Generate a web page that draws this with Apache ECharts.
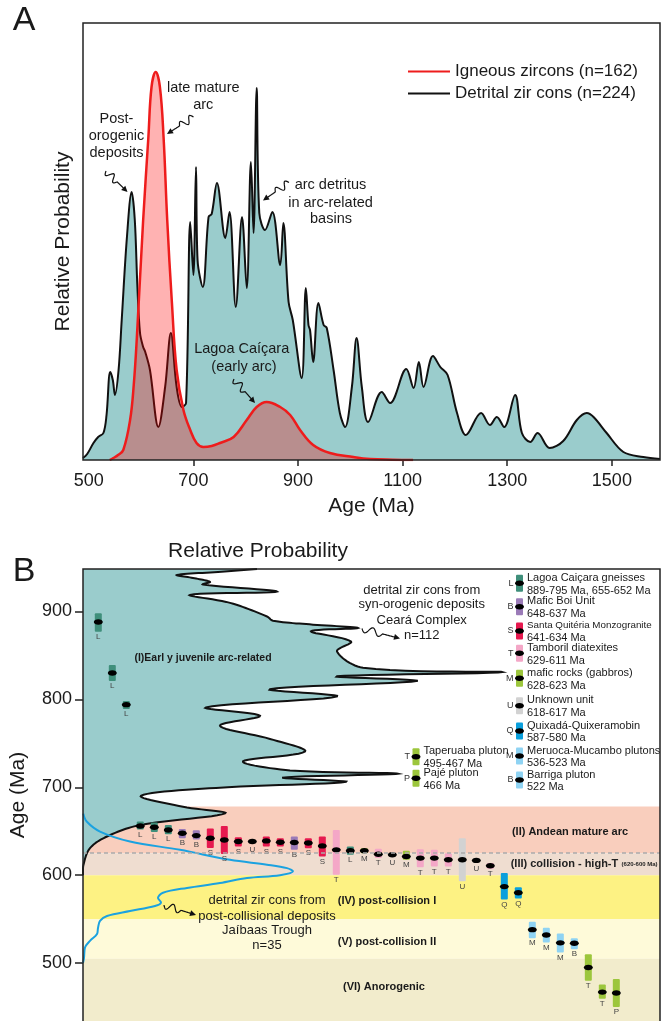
<!DOCTYPE html>
<html><head><meta charset="utf-8">
<script src="https://cdn.jsdelivr.net/npm/echarts@6/dist/echarts.min.js"></script>
<style>html,body{margin:0;padding:0;background:#fff}#c{width:667px;height:1021px}</style>
</head><body><div id="c"></div>
<script>
// ---------- Panel A data ----------
const ageTicksA = [500,700,900,1100,1300,1500];
const detritalAge = [489,497,509,518,528,534,541,546,550,557,563,573,582,588,593,598,604,608,617,633,646,657,668,678,686,694,700,705,708,718,729,735,745,761,769,781,793,802,810,815,821,826,837,851,866,872,882,890,907,915,920,923,929,939,949,955,968,980,990,1003,1012,1022,1034,1060,1076,1107,1121,1131,1140,1158,1172,1186,1204,1221,1250,1267,1280,1294,1315,1328,1344,1358,1381,1407,1433,1452,1465,1490,1522,1560,1592];
const detritalProb = [2,6,17,23,27,45,88,80,65,90,140,223,268,240,173,127,113,108,90,33,73,127,73,53,57,238,185,293,200,173,243,246,277,222,248,153,243,172,298,227,372,247,230,248,195,237,158,140,82,172,135,130,98,157,135,132,90,47,33,73,122,73,38,68,57,91,72,98,73,104,93,85,47,25,47,35,43,33,65,27,18,27,12,19,40,47,43,27,8,3,1];
const igneousAge = [540,547,556,566,579,586,592,604,614,620,628,636,643,650,659,668,681,694,706,719,735,751,777,802,821,840,866,885,904,929,961,1006,1038,1080,1120];
const igneousProb = [0,2,5,10,40,75,123,240,323,373,388,373,323,240,157,90,50,30,17,13,14,17,23,40,53,58,53,45,30,15,7,3,1,0.3,0];

// ---------- Panel B data ----------
const ageTicksB = [500,600,700,800,900];
const synAge = [948.3,944.9,941.5,938.1,933.6,930.7,922.6,918.9,909.8,894.3,889.5,885,881.2,877.4,865.8,854.5,836,831,826.2,820.9,811.5,803.3,790.8,781.3,770,755,740.7,729.4,719.2,715.5,711,706.1,699.3,690.3,677.8,670.3,657,644,630.7,611.9,600];
const synProb = [174,135,94,110,127,120,194,107,147,184,190,230,275,228,268,254,280,419,254,334,187,254,123,177,137,187,222,160,207,315,200,263,133,58,100,142,57,24,7,0.5,0];
const postAge = [670,661,649.6,638.3,628.8,617.5,611.9,608,604.4,600,596.8,591,585.5,580,574,569,565,559.2,553.6,548,540,533,525.3,517.7,506,500];
const postProb = [0.3,3.7,17,47,97,147,184,204,210,197,164,137,104,80,75,78,72,47,24,17,15,14,7,2,1,0];
const bandTop = [678,625,600,550,505];
const bandBottom = [625,600,550,505,434];
const bandNames = ['(II) Andean mature arc','(III) collision - high-T','(IV) post-collision I','(V) post-collision II','(VI) Anorogenic'];
const unitLetter = ['L','B','S','T','M','U','Q','M','B','T','P'];
const unitName = ['Lagoa Caiçara gneisses','Mafic Boi Unit','Santa Quitéria Monzogranite','Tamboril diatexites','mafic rocks (gabbros)','Unknown unit','Quixadá-Quixeramobin','Meruoca-Mucambo plutons','Barriga pluton','Taperuaba pluton','Pajé pluton'];
const unitRange = ['889-795 Ma, 655-652 Ma','648-637 Ma','641-634 Ma','629-611 Ma','628-623 Ma','618-617 Ma','587-580 Ma','536-523 Ma','522 Ma','495-467 Ma','466 Ma'];
const markerUnit = [0,0,0,0,0,0,1,1,2,2,2,5,2,2,1,2,2,3,0,4,3,5,4,3,3,3,5,5,3,6,6,7,7,7,8,9,9,10];
const markerAge = [888,830,794,656,654.5,651.4,647.7,645,642,640,638.3,638.3,639,637.5,637.2,636.6,633.3,628.8,627.7,627.7,623.8,623.2,621.3,619.4,619.4,617.5,617.5,616.8,610.7,587,580,538,532,523,522.6,495,467,466];
const markerMax = [898,839,798,661,660,657,652.5,651,653,656,643,639.5,644,642,644,642,644,651.4,632.6,630.7,630,624,627.7,629.6,628.8,625,642,618,613.8,602.5,586.3,547,540.3,533.5,528.2,510,475.6,481.9];
const markerMin = [877,821,789,652,649,646.5,642,640.6,631,624,632.7,637,632.6,632.6,628.8,630.7,621.3,600.6,623.2,625,619.4,622.4,617.5,608.9,610,610,593,615.6,607.3,572.3,573.4,528.2,523.3,512,515.8,480,459.4,449.9];

// ---------- styles ----------
const FONT = "'Liberation Sans', Arial, sans-serif";
const TXT = '#1a1a1a';
const TEAL = '#9acccc';
const unitColor = ['#3f8f7b','#9b7bb8','#e6194f','#f4a7c7','#9cc63c','#d2d2d2','#0a9fdc','#8fd3f3','#8fd3f3','#9cc63c','#9cc63c'];
const bandColor = ['#f9cebd','#efddd0','#fdf283','#fefad9','#f2eccc'];

function smoothPts(P, s) {
  const out = [P[0]];
  const d = (a,b) => Math.hypot(a[0]-b[0], a[1]-b[1]);
  for (let i = 0; i < P.length - 1; i++) {
    const p0 = P[i-1] || P[i], p1 = P[i], p2 = P[i+1], p3 = P[i+2] || P[i+1];
    const d01 = d(p0,p1), d12 = d(p1,p2), d23 = d(p2,p3);
    const r1 = d12 / ((d01 + d12) || 1), r2 = d12 / ((d12 + d23) || 1);
    const c1 = [p1[0] + (p2[0]-p0[0]) * s * r1, p1[1] + (p2[1]-p0[1]) * s * r1];
    const c2 = [p2[0] - (p3[0]-p1[0]) * s * r2, p2[1] - (p3[1]-p1[1]) * s * r2];
    for (let k = 1; k <= 12; k++) {
      const t = k/12, u = 1-t;
      out.push([u*u*u*p1[0] + 3*u*u*t*c1[0] + 3*u*t*t*c2[0] + t*t*t*p2[0],
                u*u*u*p1[1] + 3*u*u*t*c1[1] + 3*u*t*t*c2[1] + t*t*t*p2[1]]);
    }
  }
  return out;
}

function T(text, x, y, font, extra) {
  return Object.assign({type:'text', x, y, z:50, silent:true,
    style:{text, font: font || ('14.5px ' + FONT), fill: TXT, align:'center', verticalAlign:'middle', textAlign:'center', textVerticalAlign:'middle'}}, extra || {});
}
function squiggle(x1, y1, x2, y2) {
  const dx = x2-x1, dy = y2-y1, L = Math.hypot(dx,dy), ux = dx/L, uy = dy/L, nx = -uy, ny = ux;
  const pts = [];
  for (let k = 0; k <= 48; k++) {
    const t = k/48;
    const off = t < 0.6 ? 3.5*Math.sin(3*Math.PI*t/0.6) : 0;
    const along = t*(L-4);
    pts.push([x1 + ux*along + nx*off, y1 + uy*along + ny*off]);
  }
  const bx = x2 - ux*6, by = y2 - uy*6;
  return [
    {type:'polyline', z:50, silent:true, shape:{points:pts}, style:{stroke:'#111', lineWidth:1.2, fill:null}},
    {type:'polygon', z:50, silent:true, shape:{points:[[x2,y2],[bx+nx*3,by+ny*3],[bx-nx*3,by-ny*3]]}, style:{fill:'#111'}}
  ];
}

const G = [];
// panel letters & frames
G.push(T('A', 24, 21, '34px ' + FONT));
G.push(T('B', 24, 572, '34px ' + FONT));
G.push({type:'rect', z:100, silent:true, shape:{x:83, y:23, width:577, height:437}, style:{fill:null, stroke:'#222', lineWidth:1.5}});
G.push({type:'polyline', z:100, silent:true, shape:{points:[[83,1024],[83,569],[660,569],[660,1024]]}, style:{fill:null, stroke:'#222', lineWidth:1.5}});
// panel A annotations
G.push(T('late mature', 203.3, 88.3), T('arc', 203.3, 105));
G.push(T('Post-', 116.5, 119.3), T('orogenic', 116.5, 136), T('deposits', 116.5, 153));
G.push(T('arc detritus', 330.5, 185), T('in arc-related', 330.5, 202.7), T('basins', 331, 219.3));
G.push(T('Lagoa Caíçara', 241.7, 349.3), T('(early arc)', 244, 366.7));
G.push(...squiggle(193.5,117,167,134), ...squiggle(106,171,127.5,192), ...squiggle(289,182.5,263,200.5), ...squiggle(234,379,255,403));
// panel B texts
G.push(T('Relative Probability', 258, 551, '21px ' + FONT));
const F13 = '13px ' + FONT;
G.push(T('detrital zir cons from', 421.7, 590, F13), T('syn-orogenic deposits', 421.7, 604.5, F13), T('Ceará Complex', 421.7, 620, F13), T('n=112', 421.7, 635, F13));
G.push(T('detrital zir cons from', 267, 900.7, F13), T('post-collisional deposits', 267, 916, F13), T('Jaíbaas Trough', 267, 930.7, F13), T('n=35', 267, 945, F13));
G.push(...squiggle(362,628.5,400,638.5), ...squiggle(164,905,196,915));
const B11 = 'bold 11px ' + FONT;
G.push(T('(I)Earl y juvenile arc-related', 203, 657.7, 'bold 10.5px ' + FONT));
G.push(T(bandNames[0], 570, 832.3, B11));
G.push({type:'text', x:510.7, y:864.3, z:50, silent:true, style:{text:'{a|' + bandNames[1] + '} {b|(620-600 Ma)}', fill:'#222', align:'left', verticalAlign:'middle', textAlign:'left', textVerticalAlign:'middle',
  rich:{a:{font:B11, fill:'#222'}, b:{font:'bold 6px ' + FONT, fill:'#222'}}}});
G.push(T(bandNames[2], 387, 901, B11), T(bandNames[3], 387, 942.3, B11), T(bandNames[4], 384, 987.3, B11));
// panel B unit legend
function legendEntry(u, bx, dotY) {
  const c = unitColor[u];
  G.push({type:'rect', z:60, silent:true, shape:{x:bx-3.5, y:dotY-8.5, width:7, height:17, r:1}, style:{fill:c}});
  G.push({type:'ellipse', z:61, silent:true, shape:{cx:bx, cy:dotY, rx:4.5, ry:2.7}, style:{fill:'#000'}});
  G.push(T(unitLetter[u], bx-6, dotY, '9px ' + FONT, {style:{text:unitLetter[u], font:'9px ' + FONT, fill:'#333', align:'right', verticalAlign:'middle', textAlign:'right', textVerticalAlign:'middle'}}));
  const f = (u === 2 ? '9.8px ' : '11px ') + FONT;
  G.push(T(unitName[u], bx+7.5, dotY-5.5, f, {style:{text:unitName[u], font:f, fill:TXT, align:'left', verticalAlign:'middle', textAlign:'left', textVerticalAlign:'middle'}}));
  G.push(T(unitRange[u], bx+7.5, dotY+7.2, '11px ' + FONT, {style:{text:unitRange[u], font:'11px ' + FONT, fill:TXT, align:'left', verticalAlign:'middle', textAlign:'left', textVerticalAlign:'middle'}}));
}
const legendDotY = [583.3,606.7,631,653.3,678.3,705.7,731,756,780];
legendDotY.forEach((y, k) => legendEntry(k, 519.5, y));
legendEntry(9, 416, 756.7);
legendEntry(10, 416, 778.3);

const chart = echarts.init(document.getElementById('c'), null, {renderer:'canvas'});
chart.setOption({
  animation:false,
  backgroundColor:'#fff',
  legend:{data:['Igneous zircons (n=162)','Detrital zir cons (n=224)'], orient:'vertical', left:403, top:58, icon:'rect', itemWidth:42, itemHeight:2, itemGap:5,
    textStyle:{fontSize:17, fontFamily:FONT, color:TXT}},
  grid:[{left:83, top:23, width:577, height:437}, {left:83, top:569, width:577, height:455}],
  xAxis:[
    {gridIndex:0, type:'value', min:489, max:1592, splitLine:{show:false}, axisLine:{show:false},
     axisTick:{show:true, inside:false, length:6, lineStyle:{color:'#222', width:1.5}, customValues:[700,900,1100,1300,1500]},
     axisLabel:{customValues:ageTicksA, formatter:(v)=>String(v), fontSize:18, fontFamily:FONT, color:TXT, margin:12},
     name:'Age (Ma)', nameLocation:'middle', nameGap:36, nameTextStyle:{fontSize:21, fontFamily:FONT, color:TXT}},
    {gridIndex:1, type:'value', min:0, max:577, show:false},
    {gridIndex:1, type:'value', min:-1.0929, max:40.12, show:false}
  ],
  yAxis:[
    {gridIndex:0, type:'value', min:0, max:437, axisLine:{show:false}, axisTick:{show:false}, axisLabel:{show:false}, splitLine:{show:false},
     name:'Relative Probability', nameLocation:'middle', nameRotate:90, nameGap:9, nameTextStyle:{fontSize:21, fontFamily:FONT, color:TXT}},
    {gridIndex:1, type:'value', min:434.1, max:948.3, axisLine:{show:false}, splitLine:{show:false},
     axisTick:{show:true, inside:false, length:8, lineStyle:{color:'#222', width:1.5}, customValues:ageTicksB},
     axisLabel:{customValues:ageTicksB, formatter:(v)=>String(v), fontSize:18, fontFamily:FONT, color:TXT, margin:11},
     name:'Age (Ma)', nameLocation:'middle', nameRotate:90, nameGap:54, nameTextStyle:{fontSize:21, fontFamily:FONT, color:TXT}}
  ],
  series:[
    {name:'Detrital zir cons (n=224)', type:'line', xAxisIndex:0, yAxisIndex:0, z:2,
     data:detritalAge.map((a,i)=>[a, detritalProb[i]]), smooth:0.35, symbol:'none',
     lineStyle:{color:'#111', width:2}, itemStyle:{color:'#111'}, areaStyle:{color:TEAL, opacity:1}},
    {name:'Igneous zircons (n=162)', type:'line', xAxisIndex:0, yAxisIndex:0, z:3,
     data:igneousAge.map((a,i)=>[a, igneousProb[i]]), smooth:0.4, symbol:'none',
     lineStyle:{color:'#ee1c1c', width:2.5}, itemStyle:{color:'#ee1c1c'}, areaStyle:{color:'rgba(255,0,0,0.3)', opacity:1}},
    {name:'bands', type:'custom', xAxisIndex:1, yAxisIndex:1, z:1, silent:true,
     encode:{x:0, y:1},
     data:bandTop.map((t,i)=>[0, t, bandBottom[i], i]),
     renderItem:(params, api) => {
       const cs = params.coordSys;
       const y1 = api.coord([0, api.value(1)])[1], y2 = api.coord([0, api.value(2)])[1];
       return {type:'rect', shape:{x:cs.x, y:y1, width:cs.width, height:y2-y1}, style:{fill:bandColor[api.value(3)]}};
     }},
    {name:'syn-orogenic', type:'custom', xAxisIndex:1, yAxisIndex:1, z:2, silent:true,
     encode:{x:0, y:1},
     data:synProb.map((p,i)=>[p, synAge[i]]),
     renderItem:(params, api) => {
       if (params.dataIndex !== 0) return;
       const pts = synProb.map((p,i)=>api.coord([p, synAge[i]]));
       const sm = smoothPts(pts, 0.35);
       const poly = [api.coord([0, synAge[0]])].concat(sm, [api.coord([0, synAge[synAge.length-1]])]);
       return {type:'group', children:[
         {type:'polygon', shape:{points:poly}, style:{fill:TEAL}},
         {type:'polyline', shape:{points:sm}, style:{stroke:'#111', lineWidth:2, fill:null}}
       ]};
     }},
    {name:'post-collisional', type:'line', xAxisIndex:1, yAxisIndex:1, z:3,
     data:postProb.map((p,i)=>[p, postAge[i]]), smooth:0.35, symbol:'none',
     lineStyle:{color:'#1ba2e0', width:2}, itemStyle:{color:'#1ba2e0'},
     markLine:{silent:true, symbol:'none', label:{show:false}, lineStyle:{color:'#aaa', type:[4,3], width:1.5}, data:[{yAxis:625}]}},
    {name:'markers', type:'custom', xAxisIndex:2, yAxisIndex:1, z:4, silent:true,
     encode:{x:0, y:1},
     data:markerAge.map((a,i)=>[i, a, markerMin[i], markerMax[i], markerUnit[i]]),
     renderItem:(params, api) => {
       const i = api.value(0), u = api.value(4);
       const c = api.coord([i, api.value(1)]);
       const top = api.coord([i, api.value(3)])[1], bot = api.coord([i, api.value(2)])[1];
       const ch = [];
       ch.push({type:'rect', shape:{x:c[0]-3.5, y:top, width:7, height:bot-top, r:1}, style:{fill:unitColor[u]}});
       ch.push({type:'ellipse', shape:{cx:c[0], cy:c[1], rx:4.5, ry:2.7}, style:{fill:'#000'}});
       const ly = Math.max(bot, c[1]+3) + 1;
       ch.push({type:'text', x:c[0], y:ly, style:{text:unitLetter[u], font:'8px ' + FONT, fill:'#444', align:'center', verticalAlign:'top', textAlign:'center', textVerticalAlign:'top'}});
       return {type:'group', children:ch};
     }}
  ],
  graphic:{elements:G}
});
</script></body></html>
